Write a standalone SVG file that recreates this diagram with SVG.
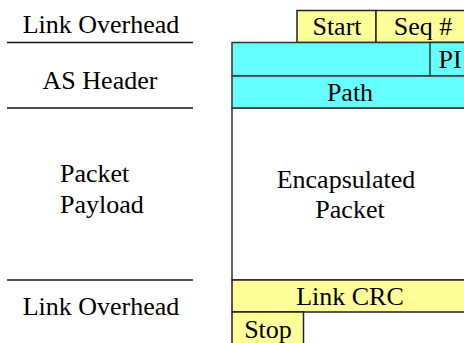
<svg xmlns="http://www.w3.org/2000/svg" width="464" height="343" viewBox="0 0 464 343">
<style>
text{font-family:"Liberation Serif","Times New Roman",serif;font-size:26px;fill:#000}
.y{fill:#ffff99;stroke:#222;stroke-width:1.5}
.c{fill:#66ffff;stroke:#333;stroke-width:1.5}
.w{fill:#fff;stroke:#333;stroke-width:1.5}
.rule{stroke:#111;stroke-width:1.3}
.m{text-anchor:middle}
</style>
<rect width="464" height="343" fill="#fff"/>
<g id="legend">
<line class="rule" x1="7" y1="42.5" x2="193" y2="42.5"/>
<line class="rule" x1="7" y1="108" x2="193" y2="108"/>
<line class="rule" x1="7" y1="280" x2="193" y2="280"/>
<text class="m" x="101" y="33">Link Overhead</text>
<text class="m" x="100" y="89">AS Header</text>
<text x="60" y="182">Packet</text>
<text x="60" y="213">Payload</text>
<text class="m" x="101" y="315">Link Overhead</text>
</g>
<g id="body"><rect class="w" x="232" y="108" width="240" height="172"/>
<text class="m" x="346" y="188">Encapsulated</text>
<text class="m" x="350" y="218">Packet</text></g>
<g id="start"><rect class="y" x="297" y="10.5" width="79" height="32"/><text class="m" x="337" y="35">Start</text></g>
<g id="seq"><rect class="y" x="376" y="10.5" width="100" height="32"/><text class="m" x="423" y="35">Seq #</text></g>
<g id="asrow"><rect class="c" x="232" y="42.5" width="240" height="33.5"/></g>
<g id="pi"><rect class="c" x="430" y="42.5" width="42" height="33.5"/><text class="m" x="450" y="68">PI</text></g>
<g id="path"><rect class="c" x="232" y="76" width="240" height="32"/><text class="m" x="350" y="101">Path</text></g>
<g id="crc"><rect class="y" x="232" y="280" width="240" height="32"/><text class="m" x="350" y="305">Link CRC</text></g>
<g id="stop"><rect class="y" x="232" y="312" width="71.5" height="40"/><text class="m" x="268" y="338">Stop</text></g>
<g id="connectors"/>
</svg>
